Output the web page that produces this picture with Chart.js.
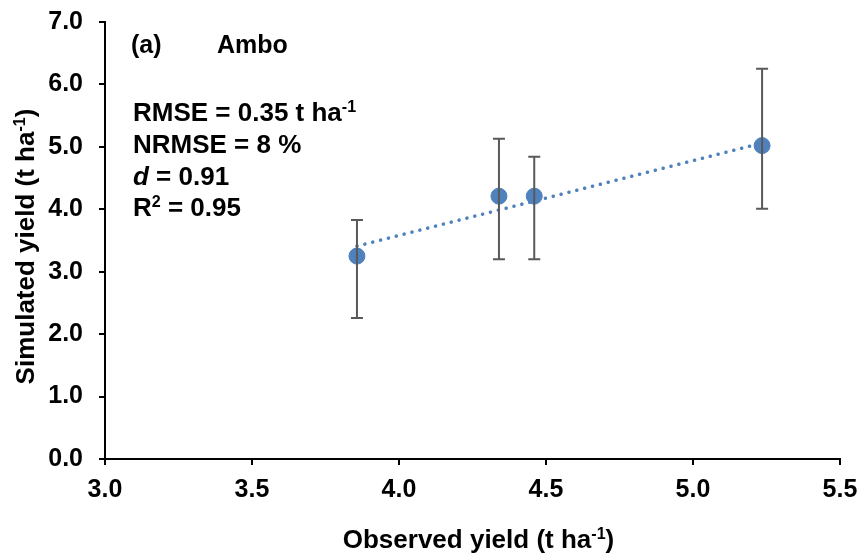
<!DOCTYPE html>
<html>
<head>
<meta charset="utf-8">
<script src="https://cdn.jsdelivr.net/npm/chart.js@4"></script>
<style>
  html, body { margin: 0; padding: 0; background: #fff; }
  #wrap { width: 861px; height: 554px; }
</style>
</head>
<body>
<div id="wrap"><canvas id="chart"></canvas></div>
<script>
/* data */
const observed = [3.857, 4.34, 4.46, 5.235];
const simulated = [3.25, 4.21, 4.21, 5.02];
const errLow = [2.26, 3.20, 3.20, 4.01];
const errHigh = [3.83, 5.13, 4.84, 6.25];
const trendX = [3.857, 5.235];
const trendY = [3.41, 5.06];
const xTicks = [3.0, 3.5, 4.0, 4.5, 5.0, 5.5];
const yTicks = [0, 1, 2, 3, 4, 5, 6, 7];

const FONT = 'Liberation Sans, Arial, sans-serif';
const BLUE = '#4F81BD';

// text with a superscript part: parts = [[text, sup, italic], ...]
function drawRich(ctx, parts, x, y, size) {
  let cx = x;
  parts.forEach(p => {
    const s = p[1] ? size * 0.62 : size;
    ctx.font = (p[2] ? 'italic ' : '') + 'bold ' + s + 'px ' + FONT;
    ctx.fillText(p[0], cx, p[1] ? y - size * 0.36 : y);
    cx += ctx.measureText(p[0]).width;
  });
  return cx - x;
}
function richWidth(ctx, parts, size) {
  let w = 0;
  parts.forEach(p => {
    const s = p[1] ? size * 0.62 : size;
    ctx.font = (p[2] ? 'italic ' : '') + 'bold ' + s + 'px ' + FONT;
    w += ctx.measureText(p[0]).width;
  });
  return w;
}

/* error bars + annotations */
const extras = {
  id: 'extras',
  afterDatasetsDraw(chart) {
    const ctx = chart.ctx, xs = chart.scales.x, ys = chart.scales.y;
    ctx.save();
    ctx.strokeStyle = '#595959';
    ctx.lineWidth = 2;
    observed.forEach((v, i) => {
      const px = xs.getPixelForValue(v);
      const top = ys.getPixelForValue(errHigh[i]);
      const bot = ys.getPixelForValue(errLow[i]);
      ctx.beginPath();
      ctx.moveTo(px, top); ctx.lineTo(px, bot);
      ctx.moveTo(px - 6, top); ctx.lineTo(px + 6, top);
      ctx.moveTo(px - 6, bot); ctx.lineTo(px + 6, bot);
      ctx.stroke();
    });
    ctx.restore();
  },
  afterDraw(chart) {
    const ctx = chart.ctx, a = chart.chartArea;
    ctx.save();
    ctx.fillStyle = '#000';
    ctx.textBaseline = 'alphabetic';
    ctx.textAlign = 'left';
    const L = a.left + 28;
    drawRich(ctx, [['(a)']], L - 2, 53, 25);
    drawRich(ctx, [['Ambo']], L + 84, 53, 25);
    drawRich(ctx, [['RMSE = 0.35 t ha'], ['-1', true]], L, 121, 26);
    drawRich(ctx, [['NRMSE = 8 %']], L, 153, 26);
    drawRich(ctx, [['d', false, true], [' = 0.91']], L, 185, 26);
    drawRich(ctx, [['R'], ['2', true], [' = 0.95']], L, 216, 26);

    // axis titles
    const xt = [['Observed yield (t ha'], ['-1', true], [')']];
    const wx = richWidth(ctx, xt, 26);
    drawRich(ctx, xt, (a.left + a.right) / 2 + 6 - wx / 2, 548, 26);

    const yt = [['Simulated yield (t ha'], ['-1', true], [')']];
    const wy = richWidth(ctx, yt, 26);
    ctx.translate(34, (a.top + a.bottom) / 2 + 6);
    ctx.rotate(-Math.PI / 2);
    drawRich(ctx, yt, -wy / 2, 0, 26);
    ctx.restore();
  }
};

new Chart(document.getElementById('chart'), {
  type: 'scatter',
  data: {
    datasets: [{
      data: observed.map((v, i) => ({ x: v, y: simulated[i] })),
      backgroundColor: BLUE,
      borderColor: BLUE,
      pointRadius: 8,
      pointHoverRadius: 8,
      order: 1
    }, {
      type: 'line',
      data: trendX.map((v, i) => ({ x: v, y: trendY[i] })),
      borderColor: BLUE,
      borderWidth: 3.5,
      borderDash: [0.1, 8],
      borderCapStyle: 'round',
      pointRadius: 0,
      fill: false,
      order: 2
    }]
  },
  options: {
    responsive: true,
    maintainAspectRatio: false,
    animation: false,
    events: [],
    layout: { padding: { top: 22, right: 21, left: 0, bottom: 0 } },
    plugins: { legend: { display: false }, tooltip: { enabled: false } },
    scales: {
      x: {
        type: 'linear',
        min: 3.0, max: 5.5,
        afterBuildTicks: s => { s.ticks = xTicks.map(v => ({ value: v })); },
        afterFit: s => { s.height = 95; s.paddingLeft = 0; s.paddingRight = 0; },
        border: { color: '#000', width: 2 },
        grid: { drawOnChartArea: false, drawTicks: true, tickLength: 6, color: '#000', lineWidth: 2 },
        ticks: {
          color: '#000', padding: 10,
          font: { family: FONT, size: 25, weight: 'bold' },
          callback: v => v.toFixed(1)
        }
      },
      y: {
        min: 0, max: 7,
        afterBuildTicks: s => { s.ticks = yTicks.map(v => ({ value: v })); },
        afterFit: s => { s.width = 105; s.paddingTop = 0; s.paddingBottom = 0; },
        border: { color: '#000', width: 2 },
        grid: { drawOnChartArea: false, drawTicks: true, tickLength: 6, color: '#000', lineWidth: 2 },
        ticks: {
          color: '#000', padding: 16,
          font: { family: FONT, size: 25, weight: 'bold' },
          callback: v => v.toFixed(1)
        }
      }
    }
  },
  plugins: [extras]
});
</script>
</body>
</html>
